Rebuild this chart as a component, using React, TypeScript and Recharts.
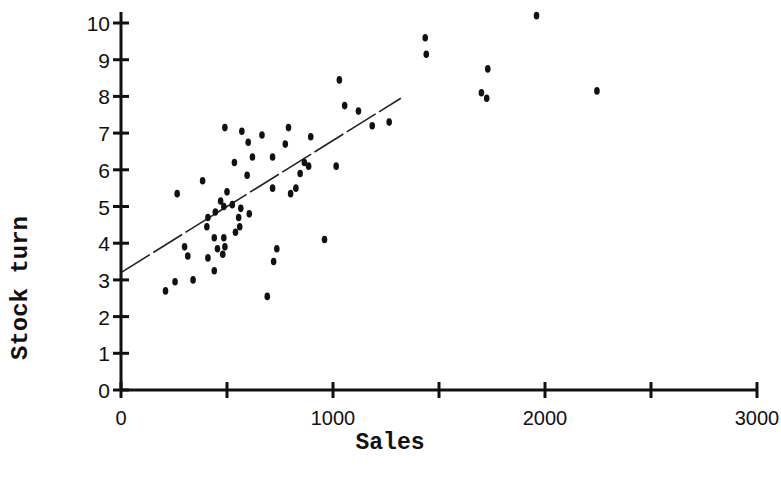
import { ScatterChart, Scatter, XAxis, YAxis, ReferenceLine } from 'recharts'

// sales and stock turn for each store
const sales = [
  490, 570, 665, 790, 895, 600, 775, 1055, 1120, 1960,
  1435, 1440, 1730, 1030, 1700, 1725, 2245, 1185, 1265, 620,
  715, 535, 865, 885, 1015, 845, 595, 385, 265, 500,
  715, 825, 800, 470, 485, 525, 565, 605, 445, 410,
  555, 405, 560, 540, 440, 485, 300, 455, 490, 480,
  315, 410, 735, 720, 960, 440, 255, 340, 210, 690,
]
const stockTurn = [
  7.15, 7.05, 6.95, 7.15, 6.9, 6.75, 6.7, 7.75, 7.6, 10.2,
  9.6, 9.15, 8.75, 8.45, 8.1, 7.95, 8.15, 7.2, 7.3, 6.35,
  6.35, 6.2, 6.2, 6.1, 6.1, 5.9, 5.85, 5.7, 5.35, 5.4,
  5.5, 5.5, 5.35, 5.15, 5.0, 5.05, 4.95, 4.8, 4.85, 4.7,
  4.7, 4.45, 4.45, 4.3, 4.15, 4.15, 3.9, 3.85, 3.9, 3.7,
  3.65, 3.6, 3.85, 3.5, 4.1, 3.25, 2.95, 3.0, 2.7, 2.55,
]

// hand drawn fit line, two ends
const fitSales = [0, 1320]
const fitTurn = [3.2, 7.95]

const xTicks = [0, 500, 1000, 1500, 2000, 2500, 3000]
const yTicks = [0, 1, 2, 3, 4, 5, 6, 7, 8, 9, 10]

const points = sales.map((s, i) => ({ sales: s, turn: stockTurn[i] }))

const INK = '#111'
const numFont = '"Liberation Sans", Arial, sans-serif'
const titleFont = '"Liberation Mono", "DejaVu Sans Mono", monospace'

function XTick({ x, y, payload }: any) {
  const v = payload.value
  return (
    <g>
      <line x1={x} y1={y - 8} x2={x} y2={y + 8} stroke={INK} strokeWidth={3} />
      {v % 1000 === 0 && (
        <text x={x} y={y + 35} textAnchor="middle" fontSize={20} fontFamily={numFont} fill={INK}>
          {v}
        </text>
      )}
    </g>
  )
}

function YTick({ x, y, payload }: any) {
  return (
    <g>
      <line x1={x - 8} y1={y} x2={x + 8} y2={y} stroke={INK} strokeWidth={3} />
      <text x={x - 11} y={y + 8} textAnchor="end" fontSize={21} fontFamily={numFont} fill={INK}>
        {payload.value}
      </text>
    </g>
  )
}

function Dot({ cx, cy }: any) {
  return <ellipse cx={cx} cy={cy} rx={2.8} ry={3.8} fill={INK} />
}

export default function App() {
  return (
    <div style={{ position: 'absolute', left: 0, top: 0, width: 781, height: 486, background: '#fff' }}>
      <ScatterChart width={781} height={486} margin={{ top: 12, right: 24, bottom: 56, left: 51 }}>
        <XAxis
          type="number"
          dataKey="sales"
          domain={[0, 3000]}
          ticks={xTicks}
          height={40}
          tickSize={0}
          tickMargin={0}
          tickLine={false}
          tick={<XTick />}
          axisLine={{ stroke: INK, strokeWidth: 3 }}
          interval={0}
        />
        <YAxis
          type="number"
          dataKey="turn"
          domain={[0, 10.3]}
          ticks={yTicks}
          width={70}
          tickSize={0}
          tickMargin={0}
          tickLine={false}
          tick={<YTick />}
          axisLine={{ stroke: INK, strokeWidth: 3 }}
          interval={0}
        />
        <ReferenceLine
          segment={[
            { x: fitSales[0], y: fitTurn[0] },
            { x: fitSales[1], y: fitTurn[1] },
          ]}
          stroke="#222"
          strokeWidth={1.6}
          strokeDasharray="34 4"
          ifOverflow="visible"
        />
        <Scatter data={points} shape={<Dot />} isAnimationActive={false} />
      </ScatterChart>
      <div
        style={{
          position: 'absolute',
          left: 20,
          top: 288,
          transform: 'translate(-50%, -50%) rotate(-90deg)',
          fontFamily: titleFont,
          fontWeight: 'bold',
          fontSize: 24,
          color: INK,
          whiteSpace: 'nowrap',
        }}
      >
        Stock turn
      </div>
      <div
        style={{
          position: 'absolute',
          left: 390,
          top: 443,
          transform: 'translate(-50%, -50%)',
          fontFamily: titleFont,
          fontWeight: 'bold',
          fontSize: 23,
          color: INK,
          whiteSpace: 'nowrap',
        }}
      >
        Sales
      </div>
    </div>
  )
}
